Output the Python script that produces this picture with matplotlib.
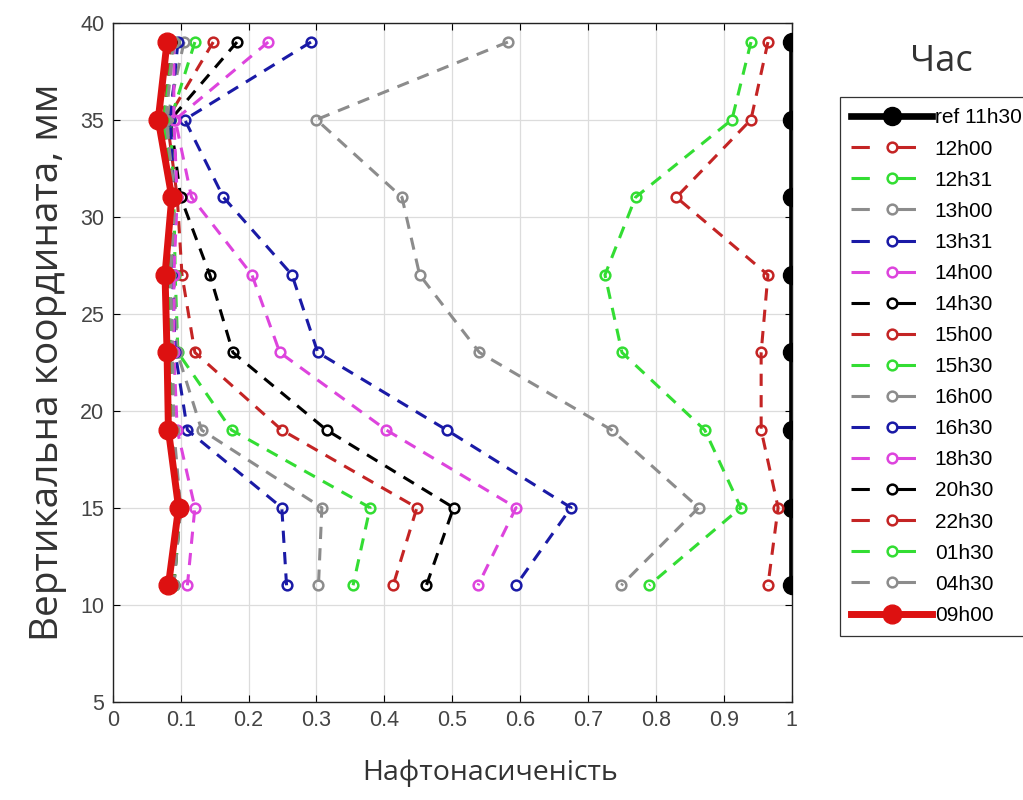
import matplotlib
matplotlib.use('Agg')
import matplotlib.pyplot as plt
from matplotlib.lines import Line2D
from matplotlib.ticker import FuncFormatter, MultipleLocator

# depth of the measuring points, mm
depth = [39, 35, 31, 27, 23, 19, 15, 11]

# oil saturation per time step
labels = ['ref 11h30', '12h00', '12h31', '13h00', '13h31', '14h00', '14h30',
          '15h00', '15h30', '16h00', '16h30', '18h30', '20h30', '22h30',
          '01h30', '04h30', '09h00']
s_ref = [1.0, 1.0, 1.0, 1.0, 1.0, 1.0, 1.0, 1.0]
s_1200 = [0.965, 0.94, 0.83, 0.965, 0.955, 0.955, 0.98, 0.965]
s_1231 = [0.94, 0.912, 0.77, 0.725, 0.75, 0.872, 0.925, 0.79]
s_1300 = [0.582, 0.30, 0.426, 0.452, 0.54, 0.735, 0.863, 0.749]
s_1331 = [0.292, 0.106, 0.163, 0.264, 0.302, 0.492, 0.675, 0.594]
s_1400 = [0.229, 0.092, 0.116, 0.205, 0.246, 0.403, 0.594, 0.538]
s_1430 = [0.183, 0.085, 0.10, 0.143, 0.177, 0.315, 0.502, 0.462]
s_1500 = [0.148, 0.08, 0.095, 0.102, 0.121, 0.249, 0.448, 0.413]
s_1530 = [0.121, 0.085, 0.09, 0.092, 0.096, 0.175, 0.379, 0.354]
s_1600 = [0.105, 0.08, 0.088, 0.09, 0.095, 0.131, 0.308, 0.303]
s_1630 = [0.096, 0.085, 0.09, 0.088, 0.092, 0.11, 0.249, 0.256]
s_1830 = [0.09, 0.09, 0.095, 0.09, 0.09, 0.095, 0.121, 0.11]
s_2030 = [0.088, 0.075, 0.09, 0.08, 0.085, 0.085, 0.10, 0.09]
s_2230 = [0.085, 0.075, 0.09, 0.08, 0.08, 0.085, 0.10, 0.088]
s_0130 = [0.09, 0.075, 0.09, 0.085, 0.085, 0.085, 0.10, 0.09]
s_0430 = [0.09, 0.078, 0.092, 0.085, 0.088, 0.09, 0.10, 0.09]
s_0900 = [0.08, 0.067, 0.087, 0.077, 0.08, 0.082, 0.097, 0.082]

series = [s_ref, s_1200, s_1231, s_1300, s_1331, s_1400, s_1430, s_1500,
          s_1530, s_1600, s_1630, s_1830, s_2030, s_2230, s_0130, s_0430,
          s_0900]

RED = '#c42424'
GREEN = '#33dd33'
GRAY = '#8c8c8c'
BLUE = '#1a1aa6'
MAGENTA = '#dd44dd'
cycle = [RED, GREEN, GRAY, BLUE, MAGENTA, 'black']

fig = plt.figure(figsize=(10.23, 8), dpi=100)
ax = fig.add_axes([0.1102, 0.1229, 0.6637, 0.8488])

handles = []
for i, (lab, s) in enumerate(zip(labels, series)):
    if lab.startswith('ref'):
        ax.plot(s, depth, '-o', color='black', lw=4.8, ms=13, zorder=3)
        h = Line2D([], [], color='black', lw=4.8, marker='o', ms=13)
    elif lab == '09h00':
        ax.plot(s, depth, '-o', color='#dd1111', lw=5, ms=13.5, zorder=5)
        h = Line2D([], [], color='#dd1111', lw=5, marker='o', ms=13.5)
    else:
        c = cycle[(i - 1) % len(cycle)]
        ax.plot(s, depth, '--o', color=c, lw=2.2, ms=7, mfc='none',
                mew=1.8, dashes=(4, 3), zorder=4)
        # legend sample: dash - marker - dash
        h = Line2D([], [], color=c, lw=2.2, marker='o', ms=7, mfc='none',
                   mew=1.8, ls='--', dashes=(6.0, 9.1))
    handles.append(h)

ax.set_xlim(0, 1)
ax.set_ylim(5, 40)
ax.xaxis.set_major_locator(MultipleLocator(0.1))
ax.yaxis.set_major_locator(MultipleLocator(5))
ax.xaxis.set_major_formatter(FuncFormatter(lambda v, p: '%g' % round(v, 2)))
ax.grid(True, color='#dcdcdc', lw=0.9)
ax.set_axisbelow(True)
ax.tick_params(direction='in', top=True, right=True, length=5,
               labelsize=15.5, labelcolor='#444444', pad=6)
for lbl in ax.get_xticklabels() + ax.get_yticklabels():
    lbl.set_family('Liberation Sans')
for sp in ax.spines.values():
    sp.set_color('#222222')
    sp.set_linewidth(1.0)

ax.set_xlabel('Нафтонасиченість', fontsize=20.5, family='Open Sans',
              color='#333333')
ax.xaxis.set_label_coords(0.556, -0.085)
ax.set_ylabel('Вертикальна координата, мм', fontsize=28, family='Open Sans',
              color='#333333')
ax.yaxis.set_label_coords(-0.068, 0.5)

leg = fig.legend(handles, labels, loc='upper left',
                 bbox_to_anchor=(840 / 1023, 1 - 97 / 800),
                 prop={'family': 'Liberation Sans', 'size': 15},
                 handlelength=3.85, handletextpad=0.15, labelspacing=0.58,
                 borderpad=0.55, borderaxespad=0, numpoints=1,
                 fancybox=False, framealpha=1, edgecolor='#333333')
leg.get_frame().set_linewidth(0.9)
fig.text(941 / 1023, 1 - 62 / 800, 'Час', fontsize=26, family='Open Sans',
         color='#333333', ha='center', va='center')

fig.savefig('out.png', dpi=100)
